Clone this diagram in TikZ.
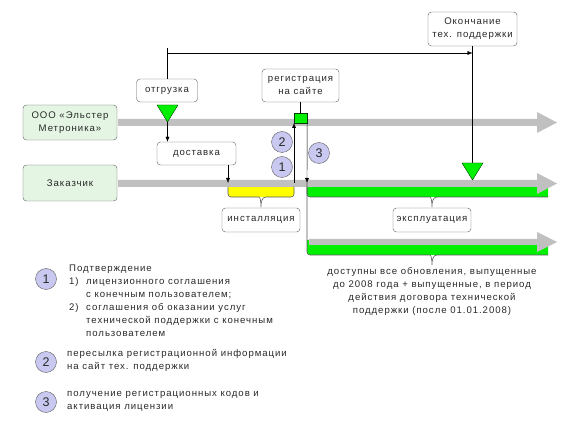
\documentclass[tikz,border=0pt]{standalone}
\usepackage{fontspec}
\setmainfont{Liberation Sans}[LetterSpace=10]
\usetikzlibrary{arrows.meta}

\definecolor{actorfill}{RGB}{228,245,228}
\definecolor{boxline}{RGB}{95,95,95}
\definecolor{lanegray}{RGB}{192,192,192}
\definecolor{bargreen}{RGB}{0,240,0}
\definecolor{baryellow}{RGB}{255,255,0}
\definecolor{numfill}{RGB}{200,200,240}
\definecolor{textgray}{RGB}{40,40,40}

\newcommand{\diafont}{\fontsize{9.6}{13}\selectfont}

\begin{document}
\begin{tikzpicture}[x=1pt,y=-1pt,
	box/.style={draw=boxline,rounded corners=3.5pt,fill=white,inner sep=0pt,align=center,font=\diafont,text=textgray},
	actor/.style={box,fill=actorfill},
	num/.style={circle,draw=boxline,fill=numfill,minimum size=21pt,inner sep=0pt,font=\fontsize{12.5}{12.5}\selectfont,text=textgray},
	note/.style={inner sep=0pt,font=\diafont,text=textgray},
	marker/.style={draw=black!60!green!60!black,fill=bargreen},
	barline/.style={draw=black!65,line width=0.6pt},
	tip/.style={-{Latex[length=5pt,width=4pt]}}]
	\useasboundingbox (0,0) rectangle (564,435);

	%Bars under the lanes
	\fill [baryellow] (228,183) [rounded corners=3pt] -- (228,197) -- (294,197) [sharp corners] -- (294,183) -- cycle;
	\fill [bargreen] (307,183) [rounded corners=3pt] -- (307,197) [sharp corners] -- (548,197) -- (548,183) -- cycle;
	\fill [bargreen] (307,240) [rounded corners=3pt] -- (307,255) [sharp corners] -- (548,255) -- (548,240) -- cycle;

	%Lanes
	\fill [lanegray] (118,119) -- (537,119) -- (537,112) -- (557,122.5) -- (537,133) -- (537,126) -- (118,126) -- cycle;
	\fill [lanegray] (118,180) -- (537,180) -- (537,173) -- (557,183.5) -- (537,194) -- (537,187) -- (118,187) -- cycle;
	\fill [lanegray] (309,239) -- (537,239) -- (537,232) -- (557,242) -- (537,252) -- (537,245) -- (309,245) -- cycle;

	%Brace outlines
	\draw [barline] (228,187) [rounded corners=3pt] -- (228,197) -- (256,197) [sharp corners] to [out=0,in=90] (261,207) to [out=90,in=180] (266,197) [rounded corners=3pt] -- (294,197) -- (294,187);
	\draw [barline] (307,187) [rounded corners=3pt] -- (307,197) -- (427,197) [sharp corners] to [out=0,in=90] (432,207) to [out=90,in=180] (437,197) -- (548,197);
	\draw [barline] (307,183) [rounded corners=3pt] -- (307,255) -- (427,255) [sharp corners] to [out=0,in=90] (432,265) to [out=90,in=180] (437,255) -- (548,255);

	%Actors
	\node [actor,minimum width=94pt,minimum height=35pt] (vendor) at (70,122.5) {ООО «Эльстер\\Метроника»};
	\node [actor,minimum width=94pt,minimum height=36pt] (customer) at (70,183) {Заказчик};

	%Steps
	\node [box,minimum width=61pt,minimum height=23pt] (shipment) at (167,90.5) {отгрузка};
	\node [box,minimum width=79pt,minimum height=23pt] (delivery) at (196.5,153.5) {доставка};
	\node [box,minimum width=77pt,minimum height=33pt] (register) at (300.5,85.5) {регистрация\\на сайте};
	\node [box,minimum width=89pt,minimum height=34pt] (supportend) at (472.5,29) {Окончание\\тех. поддержки};
	\node [box,minimum width=78pt,minimum height=24pt] (install) at (261,220) {инсталляция};
	\node [box,minimum width=78pt,minimum height=24pt] (usage) at (432,220) {эксплуатация};

	%Support period
	\coordinate (start) at (167,48);
	\coordinate (top) at (167,53);
	\draw (start) -- (shipment.north);
	\draw [tip] (top) -- (top -| supportend.south);
	\draw (supportend.south) -- (472.5,163);

	%Markers
	\draw [marker] (157,105) -- (178,105) -- (167.5,122) -- cycle;
	\draw [marker] (462,163) -- (483,163) -- (472.5,180) -- cycle;
	\node [marker,minimum width=13pt,minimum height=10pt,inner sep=0pt] (regmark) at (300.5,118) {};
	\coordinate (shiptip) at (167.5,122);

	%Connectors
	\draw (register.south) -- (regmark.north);
	\draw [tip] (shiptip) -- (shiptip |- delivery.north);
	\draw [tip] (delivery.south -| 228,0) -- (228,183);
	\draw [tip] (294,183) -- (294,123);
	\draw [tip] (regmark.south east) -- (307,183);

	%Step numbers
	\node [num] (n2) at (282,142) {2};
	\node [num] (n1) at (282,167) {1};
	\node [num] (n3) at (319,153) {3};

	%Updates note
	\node [note,align=center,anchor=north] (updates) at (432,267) {доступны все обновления, выпущенные\\до 2008 года + выпущенные, в период\\действия договора технической\\поддержки (после 01.01.2008)};

	%Legend
	\node [num] (l1) at (46,279) {1};
	\node [num] (l2) at (46,362) {2};
	\node [num] (l3) at (46,402) {3};
	\node [note,align=left,anchor=north west] (t1) at (69,265) {Подтверждение\\\makebox[17pt][l]{1)}лицензионного соглашения\\\hspace*{17pt}с конечным пользователем;\\\makebox[17pt][l]{2)}соглашения об оказании услуг\\\hspace*{17pt}технической поддержки с конечным\\\hspace*{17pt}пользователем};
	\node [note,align=left,anchor=north west] (t2) at (67,349) {пересылка регистрационной информации\\на сайт тех. поддержки};
	\node [note,align=left,anchor=north west] (t3) at (67,391) {получение регистрационных кодов и\\активация лицензии};
\end{tikzpicture}
\end{document}
